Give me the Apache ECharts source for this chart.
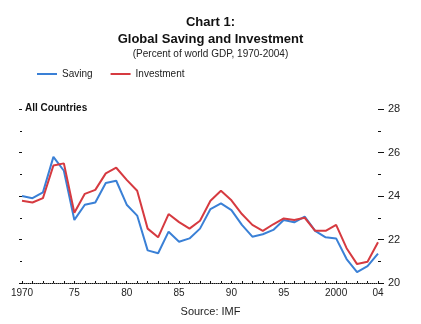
<!DOCTYPE html>
<html><head><meta charset="utf-8">
<script src="https://cdn.jsdelivr.net/npm/echarts@6/dist/echarts.min.js"></script>
<style>html,body{margin:0;padding:0;background:#fff}#c{width:421px;height:324px}</style>
</head><body><div id="c"></div>
<script>
var years = [];
for (var y = 1970; y <= 2004; y++) years.push(String(y));
var saving = [24.0,23.9,24.17,25.8,25.16,22.9,23.6,23.7,24.6,24.7,23.6,23.1,21.5,21.37,22.36,21.9,22.05,22.5,23.4,23.66,23.35,22.67,22.13,22.24,22.44,22.9,22.79,23.05,22.4,22.1,22.05,21.1,20.5,20.78,21.35];
var investment = [23.78,23.7,23.9,25.4,25.5,23.23,24.1,24.28,25.04,25.3,24.74,24.24,22.5,22.1,23.17,22.8,22.5,22.86,23.78,24.24,23.8,23.17,22.67,22.4,22.7,22.97,22.9,23.0,22.4,22.4,22.67,21.6,20.87,20.98,21.87];
var yTicks = [20,22,24,26,28];

var chart = echarts.init(document.getElementById('c'), null, {renderer:'canvas'});
var font = 'Liberation Sans, Arial, sans-serif';
chart.setOption({
  backgroundColor:'#fff',
  animation:false,
  title:[{
    text:'Chart 1:\nGlobal Saving and Investment',
    left:'center', top:9,
    textStyle:{fontFamily:font, fontSize:13, fontWeight:'bold', color:'#111', lineHeight:17},
    subtext:'(Percent of world GDP, 1970-2004)',
    subtextStyle:{fontFamily:font, fontSize:10, color:'#222'},
    itemGap:1
  },{
    text:'Source: IMF', left:'center', top:301,
    textStyle:{fontFamily:font, fontSize:11, fontWeight:'normal', color:'#222'}
  }],
  legend:{
    left:32, top:64, itemWidth:20, itemHeight:2, itemGap:18, icon:'rect',
    textStyle:{fontFamily:font, fontSize:10, color:'#222'},
    data:['Saving','Investment']
  },
  graphic:[{type:'text', left:25, top:103, style:{text:'All Countries', fontFamily:font, fontSize:10, fontWeight:'bold', fill:'#111'}}],
  grid:{left:22, right:43, top:109, height:174},
  xAxis:{
    type:'category', data:years, boundaryGap:false,
    axisLine:{lineStyle:{color:'#111', type:'dotted', width:1}},
    axisTick:{interval:0, inside:true, length:2, lineStyle:{color:'#111'}},
    axisLabel:{
      fontFamily:font, fontSize:10, color:'#222', margin:5,
      interval:function(i, v){ var n=+v; return (n-1970)%5===0 || n===2004; },
      formatter:function(v){ var n=+v; return (n===1970||n===2000)? v : v.slice(2); }
    }
  },
  yAxis:[{
    type:'value', min:20, max:28, interval:2, position:'left',
    axisLine:{show:false}, splitLine:{show:false},
    axisTick:{show:true, length:3, lineStyle:{color:'#111'}},
    minorTick:{show:true, splitNumber:2, length:2, lineStyle:{color:'#111'}},
    axisLabel:{show:false}
  },{
    type:'value', min:20, max:28, interval:2, position:'right',
    axisLine:{show:false}, splitLine:{show:false},
    axisTick:{show:true, length:6, lineStyle:{color:'#111'}},
    minorTick:{show:true, splitNumber:2, length:3, lineStyle:{color:'#111'}},
    axisLabel:{fontFamily:font, fontSize:11, color:'#222', margin:10,
      formatter:function(v){ return yTicks.indexOf(v)>=0 ? String(v) : ''; }}
  }],
  series:[{
    name:'Saving', type:'line', data:saving, symbol:'none', yAxisIndex:1,
    lineStyle:{color:'#3a80d6', width:2}, itemStyle:{color:'#3a80d6'}
  },{
    name:'Investment', type:'line', data:investment, symbol:'none', yAxisIndex:1,
    lineStyle:{color:'#d63a40', width:2}, itemStyle:{color:'#d63a40'}
  }]
});
</script></body></html>
